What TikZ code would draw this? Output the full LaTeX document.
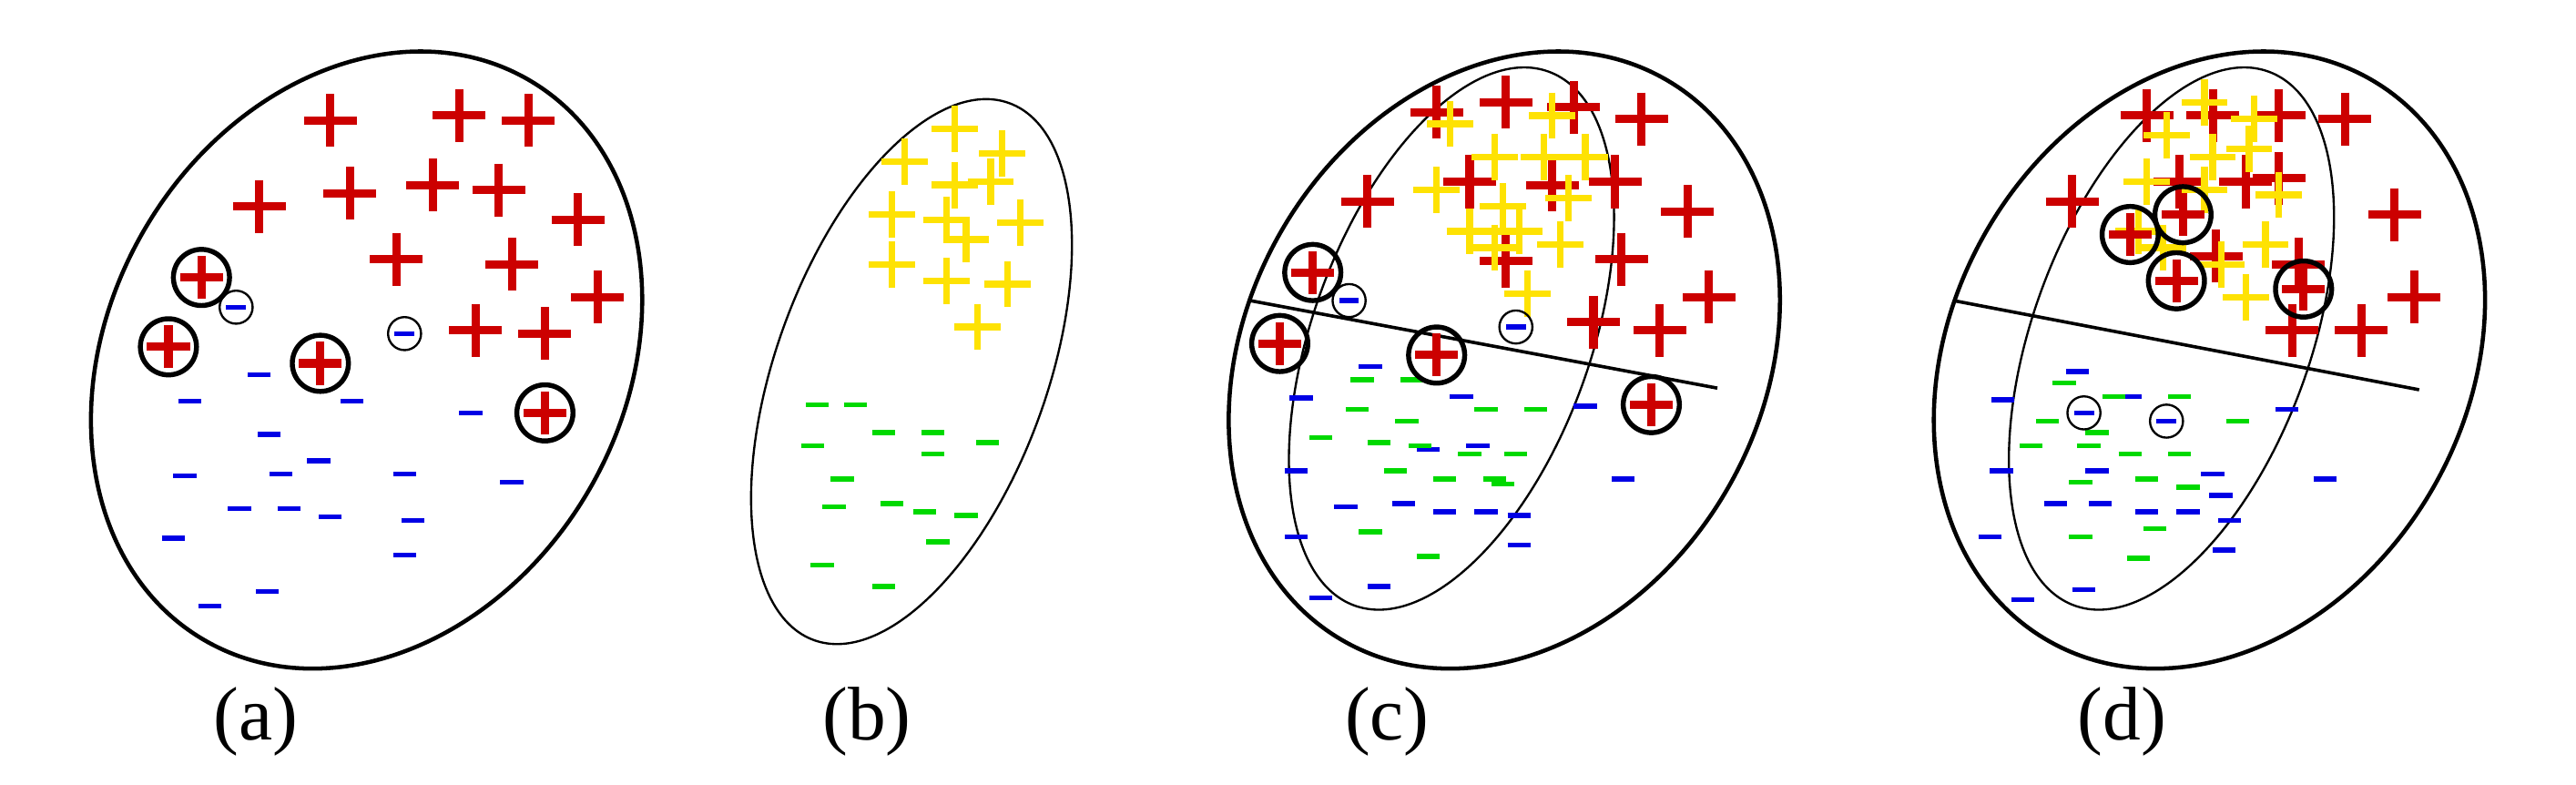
\documentclass[tikz,border=0pt]{standalone}
\usepackage{fontspec}
\setmainfont{Liberation Serif}
\begin{document}
\begin{tikzpicture}[x=1pt,y=-1pt,
  rp/.pic={\draw[red!80!black,line width=5pt] (-16,0)--(16,0) (0,-16)--(0,16);},
  yp/.pic={\draw[yellow!85!orange,line width=4pt] (-14,0)--(14,0) (0,-14)--(0,14);},
  bm/.pic={\draw[blue!90!black,line width=3pt] (-7,0)--(7,0);},
  gm/.pic={\draw[green!85!black,line width=3pt] (-7,0)--(7,0);},
  cp/.pic={\draw[red!80!black,line width=5pt] (-13,0)--(13,0) (0,-13)--(0,13);\draw[black,line width=3pt] (0,0) circle (17);},
  cmn/.pic={\draw[blue!90!black,line width=3pt] (-6,0)--(6,0);\draw[black,line width=1.3pt] (0,0) circle (10);},
  big/.style={line width=2.5pt},
  thin/.style={line width=1.3pt},
  lab/.style={font=\fontsize{46}{52}\selectfont}]
\useasboundingbox[fill=white] (0,0) rectangle (1560,475);
% (a)
\draw[big,rotate around={60:(222,218)}] (222,218) ellipse (196 and 156);
\foreach \p in {(200,73),(278,70),(320,73),(157,125),(212,117),(262,112),(302,115),(350,133),(240,157),(310,160),(362,180),(288,200),(330,202)} \pic at \p {rp};
\foreach \p in {(115,243),(157,227),(213,243),(163,263),(193,279),(112,288),(170,287),(245,287),(285,250),(145,308),(175,308),(200,313),(250,315),(105,326),(245,336),(310,292),(127,367),(162,358)} \pic at \p {bm};
\foreach \p in {(122,168),(102,210),(194,220),(330,250)} \pic at \p {cp};
\foreach \p in {(143,186),(245,202)} \pic at \p {cmn};
\node[lab] (la) at (155,437) {(a)};
% (b)
\draw[thin,rotate around={70:(552,225)}] (552,225) ellipse (173 and 82);
\foreach \p in {(578,78),(548,98),(607,93),(578,112),(600,110),(540,130),(573,133),(618,135),(585,145),(540,160),(573,170),(610,172),(592,198)} \pic at \p {yp};
\foreach \p in {(495,245),(518,245),(492,270),(535,262),(565,262),(598,268),(510,290),(565,275),(540,305),(560,310),(585,312),(505,307),(568,328),(498,342),(535,355)} \pic at \p {gm};
\node[lab] (lb) at (525,437) {(b)};
% (c)
\draw[big,rotate around={60:(911,218)}] (911,218) ellipse (196 and 156);
\draw[thin,rotate around={70:(879,205)}] (879,205) ellipse (172 and 84);
\coordinate (c1) at (757,182); \coordinate (c2) at (1040,235);
\draw[line width=2pt] (c1)--(c2);
\foreach \p in {(870,68),(912,62),(953,65),(994,72),(828,122),(890,110),(940,112),(978,110),(1022,128),(912,158),(982,157),(1035,180),(965,195),(1005,200)} \pic at \p {rp};
\foreach \p in {(878,75),(940,70),(905,95),(935,95),(960,95),(870,115),(910,125),(950,120),(890,140),(920,140),(945,148),(905,150),(925,178)} \pic at \p {yp};
\foreach \p in {(830,222),(788,241),(885,240),(960,246),(785,285),(815,307),(850,305),(875,310),(900,310),(785,325),(920,312),(920,330),(983,290),(835,355),(800,362),(865,272),(895,270)} \pic at \p {bm};
\foreach \p in {(825,230),(855,230),(822,248),(852,255),(900,248),(930,248),(800,265),(835,268),(860,270),(890,275),(918,275),(845,285),(875,290),(905,290),(830,322),(865,337),(910,293)} \pic at \p {gm};
\foreach \p in {(795,165),(775,208),(870,215),(1000,245)} \pic at \p {cp};
\foreach \p in {(817,182),(918,198)} \pic at \p {cmn};
\node[lab] (lc) at (840,437) {(c)};
% (d)
\draw[big,rotate around={60:(1338,218)}] (1338,218) ellipse (196 and 156);
\draw[thin,rotate around={70:(1315,205)}] (1315,205) ellipse (172 and 84);
\coordinate (d1) at (1183,182); \coordinate (d2) at (1465,236);
\draw[line width=2pt] (d1)--(d2);
\foreach \p in {(1300,70),(1340,70),(1380,70),(1420,72),(1255,122),(1320,110),(1360,110),(1380,108),(1450,130),(1342,155),(1392,160),(1462,180),(1388,200),(1430,200)} \pic at \p {rp};
\foreach \p in {(1335,62),(1365,72),(1312,82),(1340,95),(1362,90),(1300,110),(1335,115),(1380,118),(1295,140),(1310,150),(1345,160),(1360,180),(1372,148)} \pic at \p {yp};
\foreach \p in {(1258,225),(1213,242),(1290,240),(1385,248),(1212,285),(1245,305),(1272,305),(1300,310),(1340,287),(1345,300),(1205,325),(1350,315),(1347,333),(1408,290),(1262,357),(1225,363),(1270,285),(1325,310)} \pic at \p {bm};
\foreach \p in {(1250,232),(1280,240),(1240,255),(1270,262),(1320,240),(1355,255),(1230,270),(1265,270),(1290,275),(1320,275),(1300,290),(1260,292),(1325,295),(1305,320),(1260,325),(1295,338)} \pic at \p {gm};
\foreach \p in {(1290,142),(1322,130),(1318,170),(1395,175)} \pic at \p {cp};
\foreach \p in {(1262,250),(1312,255)} \pic at \p {cmn};
\node[lab] (ld) at (1285,437) {(d)};
\end{tikzpicture}
\end{document}
